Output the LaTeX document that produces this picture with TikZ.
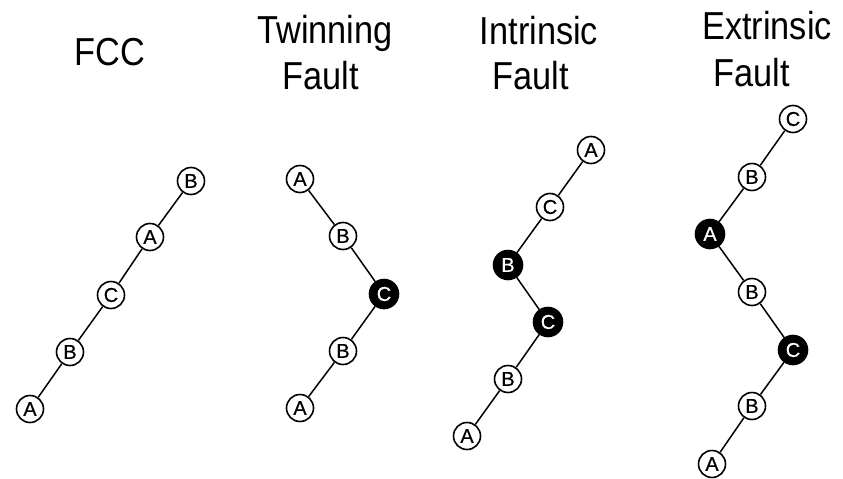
\documentclass[tikz,border=0pt]{standalone}
\usepackage{fontspec}
\setmainfont{Liberation Sans}
\newfontfamily\titlefont[FakeStretch=0.88]{Liberation Sans}
\newfontfamily\atomfont[FakeBold=0.6]{Liberation Sans}
\begin{document}
\begin{tikzpicture}[x=1pt,y=-1pt,
  atom/.style={circle, draw, line width=1.6pt, minimum size=27pt, inner sep=0pt, fill=white, font=\atomfont\fontsize{20}{20}\selectfont},
  dark/.style={atom, fill=black, text=white, minimum size=29pt},
  bond/.style={line width=1.5pt},
  title/.style={anchor=base, font=\titlefont\fontsize{39}{39}\selectfont, inner sep=0pt}]
\useasboundingbox (0,0) rectangle (843,479);
% titles
\node[title] (t1) at (110,65) {FCC};
\node[title] (t2a) at (325,43) {Twinning};
\node[title] (t2b) at (321,89) {Fault};
\node[title] (t3a) at (539,44) {Intrinsic};
\node[title] (t3b) at (531,89) {Fault};
\node[title] (t4a) at (767,39) {Extrinsic};
\node[title] (t4b) at (752,86) {Fault};
% FCC
\node[atom] (f1) at (30,409) {A};
\node[atom] (f2) at (70,352) {B};
\node[atom] (f3) at (111,295) {C};
\node[atom] (f4) at (150,237) {A};
\node[atom] (f5) at (191,181) {B};
\draw[bond] (f1)--(f2) (f2)--(f3) (f3)--(f4) (f4)--(f5);
% Twinning
\node[atom] (w1) at (300,179) {A};
\node[atom] (w2) at (343,236) {B};
\node[dark] (w3) at (384,294) {C};
\node[atom] (w4) at (343,351) {B};
\node[atom] (w5) at (300,408) {A};
\draw[bond] (w1)--(w2) (w2)--(w3) (w3)--(w4) (w4)--(w5);
% Intrinsic
\node[atom] (i1) at (591,150) {A};
\node[atom] (i2) at (550,207) {C};
\node[dark] (i3) at (508,265) {B};
\node[dark] (i4) at (548,322) {C};
\node[atom] (i5) at (508,379) {B};
\node[atom] (i6) at (467,436) {A};
\draw[bond] (i1)--(i2) (i2)--(i3) (i3)--(i4) (i4)--(i5) (i5)--(i6);
% Extrinsic
\node[atom] (e1) at (793,119) {C};
\node[atom] (e2) at (752,177) {B};
\node[dark] (e3) at (710,234) {A};
\node[atom] (e4) at (752,292) {B};
\node[dark] (e5) at (793,350) {C};
\node[atom] (e6) at (752,406) {B};
\node[atom] (e7) at (712,464) {A};
\draw[bond] (e1)--(e2) (e2)--(e3) (e3)--(e4) (e4)--(e5) (e5)--(e6) (e6)--(e7);
\end{tikzpicture}
\end{document}
